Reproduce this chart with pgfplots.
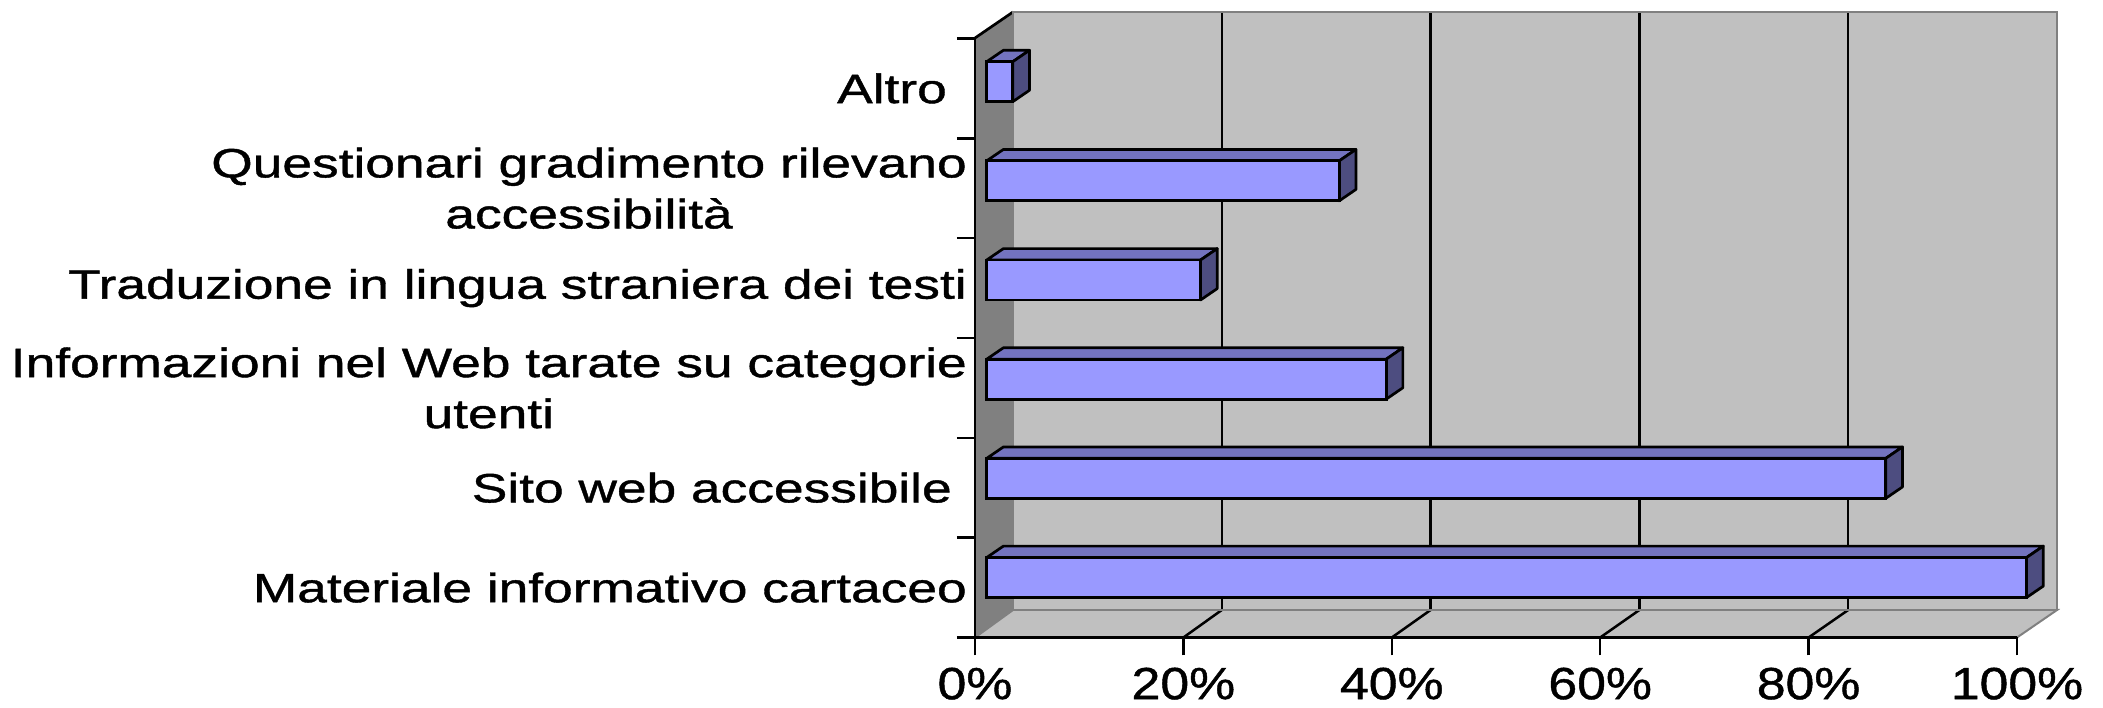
\documentclass[border=0pt]{standalone}
\usepackage{pgfplots}
\usepackage{pgfplotstable}
\pgfplotsset{compat=1.18}
\usepackage{fontspec}
\setmainfont{Liberation Sans}
\newfontfamily\catfont{Liberation Sans}[FakeStretch=1.3, FakeBold=1]
\newfontfamily\tickfont{Liberation Sans}[FakeStretch=1.15, FakeBold=1]

\definecolor{barfront}{HTML}{9999FF}
\definecolor{bartop}{HTML}{7373BF}
\definecolor{barside}{HTML}{4D4D80}
\definecolor{wall}{HTML}{C0C0C0}
\definecolor{sidewall}{HTML}{808080}

% share of respondents, bottom (0) to top (5)
\pgfplotstableread{
pos value
0 99.7
1 86.2
2 38.3
3 20.5
4 33.8
5 2.5
}\bardata

% 3D look of the bars, in bar-axis units
\def\hb{0.2017}  % half bar height
\def\dX{1.60}    % depth, x direction
\def\dY{0.115}   % depth, y direction

\begin{document}
\begin{tikzpicture}
\useasboundingbox (0,0) rectangle (2103pt,708pt);

% left wall and floor
\fill[sidewall] (975pt,70.5pt) -- (1013pt,98pt) -- (1013pt,696pt) -- (975pt,670pt) -- cycle;
\filldraw[fill=wall, draw=sidewall, line width=2pt] (975pt,70.5pt) -- (1013pt,98pt) -- (2057pt,98pt) -- (2017pt,70.5pt);
\foreach \k in {1,...,4}
  \draw[black, line width=2.5pt] ({(975+208.4*\k)*1pt},70.5pt) -- ({(1013+208.8*\k)*1pt},98pt);
\draw[black, line width=2.7pt] (975pt,670pt) -- (1013pt,696pt);

% back wall
\begin{axis}[
    at={(1013pt,98pt)}, anchor=south west,
    scale only axis, width=1044pt, height=598pt,
    xmin=0, xmax=100, ymin=0, ymax=1,
    xtick={20,40,60,80}, xticklabels={,,,}, ytick=\empty,
    major tick length=0pt,
    xmajorgrids,
    major grid style={black, line width=2.5pt},
    axis line style={draw=sidewall, line width=2pt},
    axis background/.style={fill=wall},
]
\end{axis}

% bars
\begin{axis}[
    at={(986.7pt,80.9pt)}, anchor=south west,
    scale only axis, width=1043pt, height=595pt,
    xmin=0, xmax=100, ymin=-0.5, ymax=5.5,
    hide axis, clip=false,
]
\pgfplotsinvokeforeach{0,...,5}{
  \pgfplotstablegetelem{#1}{value}\of\bardata
  \pgfmathsetmacro\va{\pgfplotsretval}
  \pgfmathsetmacro\vb{\pgfplotsretval+\dX}
  \pgfmathsetmacro\ya{#1+\hb}
  \pgfmathsetmacro\yb{#1+\hb+\dY}
  \pgfmathsetmacro\yc{#1-\hb}
  \pgfmathsetmacro\yd{#1-\hb+\dY}
  \edef\doit{%
    \noexpand\addplot[fill=bartop, draw=black, line width=2.7pt, line join=round]
      coordinates {(0,\ya) (\va,\ya) (\vb,\yb) (\dX,\yb)} -- cycle;
    \noexpand\addplot[fill=barside, draw=black, line width=2.7pt, line join=round]
      coordinates {(\va,\yc) (\vb,\yd) (\vb,\yb) (\va,\ya)} -- cycle;}
  \doit
}
\addplot[xbar, bar width=40pt, fill=barfront, draw=black, line width=2.7pt]
  table[x=value, y=pos] {\bardata};
\end{axis}

% front axis: lines, ticks, labels
\begin{axis}[
    at={(975pt,70.5pt)}, anchor=south west,
    scale only axis, width=1042pt, height=599pt,
    xmin=0, xmax=100, ymin=0, ymax=6,
    axis lines*=left,
    axis line style={black, line width=2.7pt},
    tick align=outside,
    major tick length=18pt,
    tick style={black, line width=2.5pt},
    xtick={0,20,...,100},
    xticklabels={0\%,20\%,40\%,60\%,80\%,100\%},
    xticklabel style={font=\tickfont\fontsize{45pt}{54pt}\selectfont,
      anchor=north, inner sep=0pt, yshift=-12pt},
    ytick={0,...,6},
    yticklabels={,,,,,,},
    extra y ticks={0.5,1.5,...,5.5},
    extra y tick labels={Materiale informativo cartaceo,
      Sito web accessibile\hspace{15pt},
      {Informazioni nel Web tarate su categorie\\utenti},
      Traduzione in lingua straniera dei testi,
      {Questionari gradimento rilevano\\accessibilità},
      Altro\hspace{20pt}},
    extra y tick style={major tick length=0pt,
      tick label style={font=\catfont\fontsize{41pt}{51pt}\selectfont,
        align=center, anchor=east, inner sep=0pt, xshift=-8pt}},
]
\end{axis}
\end{tikzpicture}
\end{document}
